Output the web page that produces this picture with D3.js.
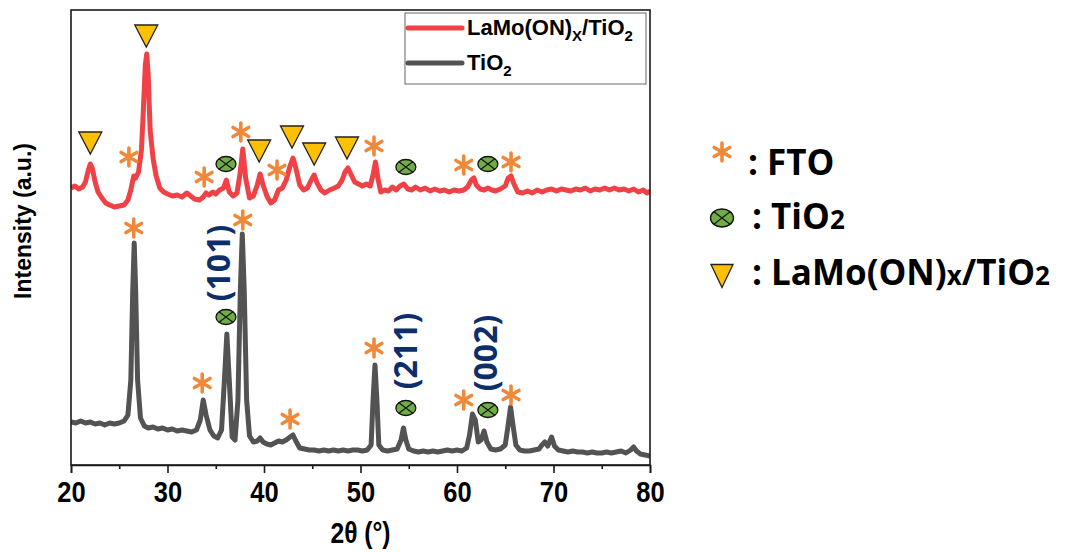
<!DOCTYPE html>
<html>
<head>
<meta charset="utf-8">
<script src="https://cdn.jsdelivr.net/npm/d3@7"></script>
<style>
  html, body { margin: 0; padding: 0; background: #fff; }
  #chart { width: 1079px; height: 552px; }
</style>
</head>
<body>
<div id="chart"></div>
<script>
// XRD patterns: LaMo(ON)x/TiO2 (offset, top) and TiO2 (bottom)

const redTheta = [20.0,20.4,20.8,21.2,21.5,21.8,22.0,22.2,22.5,22.8,23.2,23.6,24.0,24.5,25.0,25.5,25.9,26.2,26.5,26.7,27.0,27.3,27.5,27.7,27.85,28.0,28.2,28.5,28.8,29.2,29.6,30.0,30.5,31.0,31.5,32.0,32.4,32.8,33.3,33.7,34.0,34.3,34.7,35.0,35.4,35.8,36.1,36.4,36.8,37.2,37.5,37.8,38.1,38.5,38.9,39.3,39.6,39.9,40.3,40.7,41.1,41.5,41.9,42.3,42.7,43.0,43.3,43.7,44.1,44.5,44.9,45.2,45.5,45.9,46.3,46.8,47.3,47.7,48.1,48.4,48.7,49.0,49.4,49.8,50.2,50.6,51.0,51.3,51.55,51.8,52.1,52.5,52.9,53.3,53.7,54.1,54.5,54.9,55.3,55.7,56.2,56.7,57.2,57.7,58.2,58.7,59.2,59.7,60.2,60.7,61.1,61.5,61.75,62.0,62.4,62.8,63.2,63.6,64.0,64.5,65.0,65.3,65.6,65.9,66.3,66.8,67.3,67.8,68.3,68.8,69.3,69.8,70.3,70.8,71.3,71.8,72.3,72.8,73.3,73.8,74.3,74.8,75.3,75.8,76.3,76.8,77.3,77.8,78.3,78.8,79.3,79.7,80.0];
const redCounts = [275,277,274,276,281,293,299,295,281,271,265,260,258,256,257,258,263,273,287,285,291,313,353,398,409,388,333,305,288,275,271,269,267,268,266,270,267,264,263,266,270,268,271,269,273,275,283,271,267,270,288,314,285,265,267,278,289,278,267,260,263,273,275,283,297,305,295,278,273,275,283,288,280,273,270,273,275,277,283,291,295,289,281,279,277,279,277,288,301,285,271,273,272,276,273,277,279,274,273,276,273,275,272,274,272,273,271,273,272,273,276,283,285,278,274,273,275,273,272,274,277,285,287,279,271,270,272,270,273,271,273,274,272,274,273,272,274,273,275,272,274,273,275,273,275,273,274,272,274,271,273,270,272];

const grayTheta = [20.0,20.5,21.0,21.5,22.0,22.5,23.0,23.5,24.0,24.5,25.0,25.5,25.9,26.2,26.4,26.55,26.7,26.9,27.2,27.6,28.0,28.5,29.0,29.5,30.0,30.5,31.0,31.5,32.0,32.5,33.0,33.4,33.7,34.0,34.4,34.8,35.2,35.6,35.9,36.15,36.4,36.7,37.0,37.3,37.55,37.75,37.95,38.2,38.5,38.9,39.3,39.6,39.9,40.3,40.7,41.1,41.5,41.9,42.3,42.7,43.0,43.3,43.7,44.2,44.7,45.2,45.7,46.2,46.7,47.2,47.7,48.2,48.7,49.2,49.7,50.2,50.7,51.1,51.3,51.5,51.7,51.9,52.3,52.8,53.3,53.8,54.2,54.45,54.7,55.0,55.5,56.0,56.5,57.0,57.5,58.0,58.5,59.0,59.5,60.0,60.5,61.0,61.3,61.6,61.9,62.2,62.5,62.8,63.1,63.5,64.0,64.5,65.0,65.3,65.55,65.8,66.1,66.5,67.0,67.5,68.0,68.5,68.8,69.1,69.4,69.8,70.1,70.5,71.0,71.5,72.0,72.5,73.0,73.5,74.0,74.5,75.0,75.5,76.0,76.5,77.0,77.5,78.0,78.3,78.6,79.0,79.5,80.0];
const grayCounts = [41,40,42,40,41,39,40,38,40,39,40,42,48,83,173,220,173,83,45,37,35,36,34,35,33,34,32,33,32,31,33,43,63,48,33,27,25,33,83,129,83,26,23,63,173,229,173,63,27,21,22,25,21,19,18,20,22,21,23,26,28,22,15,14,13,13,12,13,12,13,12,13,12,13,13,12,13,18,63,98,63,18,13,12,13,14,23,35,23,14,12,11,12,11,12,11,12,13,12,13,12,15,28,49,43,21,23,32,21,14,13,14,18,38,56,38,18,13,12,12,13,14,18,21,17,26,17,13,12,11,12,11,11,10,11,10,10,11,10,11,12,10,13,16,12,9,8,7];

// peak markers: [2θ, level (a.u.)]
const ftoMarks = [[26.0,306],[33.8,286],[37.6,331],[41.35,293],[51.4,317],[60.7,298],[65.6,301],
                  [26.5,235],[33.6,80],[37.8,243],[42.7,44],[51.4,115],[60.7,63],[65.6,68]];
const tio2Marks = [[36.06,299],[54.7,296],[63.2,299],[36.06,146],[54.7,55],[63.2,53]];
const lamoMarks = [[22.0,320],[27.8,427],[39.5,312],[42.9,326],[45.2,309],[48.6,315]];
const planeLabels = [["(101)",35.3,200],["(211)",54.7,112],["(002)",63.0,110]];

const xTicks = [20,30,40,50,60,70,80];
const xMinorTicks = [25,35,45,55,65,75];

const colors = { lamo: "#ef4146", tio2: "#535353", fto: "#f0883a", green: "#70ad47", yellow: "#ffc000", navy: "#0d2e6b" };

const W = 1079, H = 552;
const margin = { top: 10, right: 429, bottom: 87, left: 71 };
const innerW = W - margin.left - margin.right;
const innerH = H - margin.top - margin.bottom;

const svg = d3.select("#chart").append("svg").attr("width", W).attr("height", H);
const g = svg.append("g").attr("transform", `translate(${margin.left},${margin.top})`);

const x = d3.scaleLinear().domain([20, 80]).range([0, innerW]);
const y = d3.scaleLinear().domain([-2, 453]).range([innerH, 0]);

const line = d3.line().x(d => x(d[0])).y(d => y(d[1]));

g.append("clipPath").attr("id", "clip").append("rect")
  .attr("width", innerW).attr("height", innerH);

const series = [
  { name: "tio2", theta: grayTheta, counts: grayCounts, color: colors.tio2 },
  { name: "lamo", theta: redTheta, counts: redCounts, color: colors.lamo }
];
series.forEach(s => {
  g.append("path")
    .datum(s.theta.map((t, i) => [t, s.counts[i]]))
    .attr("clip-path", "url(#clip)")
    .attr("fill", "none")
    .attr("stroke", s.color)
    .attr("stroke-width", 5)
    .attr("stroke-linejoin", "round")
    .attr("d", line);
});

// frame + axis
g.append("rect").attr("width", innerW).attr("height", innerH)
  .attr("fill", "none").attr("stroke", "#1a1a1a").attr("stroke-width", 1.6);

const tickFont = "'Liberation Sans', Arial, sans-serif";
const xAxis = d3.axisBottom(x).tickValues(xTicks).tickSize(8).tickFormat(d3.format("d"));
const gx = g.append("g").attr("transform", `translate(0,${innerH})`).call(xAxis);
gx.select(".domain").attr("stroke", "#1a1a1a").attr("stroke-width", 1.6);
gx.selectAll(".tick line").attr("stroke", "#1a1a1a").attr("stroke-width", 1.6);
gx.selectAll(".tick text")
  .attr("y", 16)
  .attr("transform", "scale(0.85,1)")
  .style("font-family", tickFont)
  .style("font-weight", "bold").style("font-size", "30px").attr("fill", "#000");

g.append("g").attr("transform", `translate(0,${innerH})`)
  .call(d3.axisBottom(x).tickValues(xMinorTicks).tickSize(4).tickFormat(""))
  .call(a => a.select(".domain").remove())
  .selectAll("line").attr("stroke", "#1a1a1a").attr("stroke-width", 1.6);

g.append("g").attr("transform", `translate(${innerW / 2},${innerH + 78})`)
  .append("text")
  .attr("transform", "scale(0.85,1)")
  .attr("text-anchor", "middle")
  .style("font-family", tickFont)
  .style("font-weight", "bold").style("font-size", "29px")
  .text("2θ (°)");

svg.append("text")
  .attr("transform", `translate(31,${margin.top + 211}) rotate(-90)`)
  .attr("text-anchor", "middle")
  .style("font-family", "'Liberation Sans', Arial, sans-serif")
  .style("font-weight", "bold").style("font-size", "23px")
  .text("Intensity (a.u.)");

// marker drawers
const asterisk = d3.symbol(d3.symbolAsterisk, 230);
function drawAsterisk(sel) {
  sel.append("path").attr("d", asterisk())
    .attr("fill", "none").attr("stroke", colors.fto)
    .attr("stroke-width", 3.6).attr("stroke-linecap", "round");
}
function drawOtimes(sel, rx, ry) {
  sel.append("ellipse").attr("rx", rx).attr("ry", ry)
    .attr("fill", colors.green).attr("stroke", "#111").attr("stroke-width", 1.3);
  const a = rx * 0.7, b = ry * 0.7;
  sel.append("path").attr("d", `M${-a},${-b}L${a},${b}M${-a},${b}L${a},${-b}`)
    .attr("stroke", "#111").attr("stroke-width", 1.1);
}
function drawTriangle(sel, w, h) {
  sel.append("path").attr("d", `M${-w / 2},${-h / 2}L${w / 2},${-h / 2}L0,${h / 2}Z`)
    .attr("fill", colors.yellow).attr("stroke", "#222").attr("stroke-width", 1.3)
    .attr("stroke-linejoin", "miter");
}

g.selectAll("g.fto").data(ftoMarks).join("g").attr("class", "fto")
  .attr("transform", d => `translate(${x(d[0])},${y(d[1])})`)
  .each(function () { drawAsterisk(d3.select(this)); });

g.selectAll("g.tio2").data(tio2Marks).join("g").attr("class", "tio2")
  .attr("transform", d => `translate(${x(d[0])},${y(d[1])})`)
  .each(function () { drawOtimes(d3.select(this), 10, 7.5); });

g.selectAll("g.lamo").data(lamoMarks).join("g").attr("class", "lamo")
  .attr("transform", d => `translate(${x(d[0])},${y(d[1])})`)
  .each(function () { drawTriangle(d3.select(this), 23, 22); });

g.selectAll("text.plane").data(planeLabels).join("text").attr("class", "plane")
  .attr("transform", d => `translate(${x(d[1])},${y(d[2])}) rotate(-90)`)
  .attr("text-anchor", "middle").attr("dy", "0.35em")
  .style("font-family", "'Open Sans', sans-serif")
  .style("font-weight", "bold").style("font-size", "32px")
  .attr("fill", colors.navy)
  .text(d => d[0]);

// legend inside plot
const leg = g.append("g").attr("transform", `translate(${innerW - 245},3)`);
leg.append("rect").attr("width", 241).attr("height", 71)
  .attr("fill", "#fff").attr("stroke", "#666").attr("stroke-width", 1);
const legItems = [
  { color: colors.lamo, parts: [["LaMo(ON)", false], ["X", true], ["/TiO", false], ["2", true]] },
  { color: colors.tio2, parts: [["TiO", false], ["2", true]] }
];
legItems.forEach((it, i) => {
  const row = leg.append("g").attr("transform", `translate(0,${15 + i * 35})`);
  row.append("line").attr("x1", 3).attr("x2", 57).attr("stroke", it.color)
    .attr("stroke-width", 5).attr("stroke-linecap", "round");
  const t = row.append("text").attr("x", 62).attr("y", 7)
    .style("font-family", "'Liberation Sans', Arial, sans-serif")
    .style("font-weight", "bold").style("font-size", "22px");
  let lowered = false;
  it.parts.forEach(p => {
    const dy = p[1] === lowered ? null : (p[1] ? 6 : -6);
    t.append("tspan").text(p[0])
      .attr("dy", dy)
      .style("font-size", p[1] ? "15px" : null);
    lowered = p[1];
  });
});

// marker key on the right
const key = svg.append("g").attr("transform", "translate(722,0)");
const keyFont = "'Open Sans', sans-serif";
const keyRows = [
  { y: 175, parts: [[": FTO", false]], draw: s => drawAsterisk(s), my: 152 },
  { y: 229, parts: [[": TiO", false], ["2", true]], draw: s => drawOtimes(s, 11.5, 9), my: 218 },
  { y: 285, parts: [[": LaMo(ON)", false], ["x", true], ["/TiO", false], ["2", true]], draw: s => drawTriangle(s, 22, 23), my: 276 }
];
keyRows.forEach((r, i) => {
  const m = key.append("g").attr("transform", `translate(0,${r.my})`);
  r.draw(m);
  const t = key.append("text").attr("x", i === 0 ? 26 : 30).attr("y", r.y)
    .style("font-family", keyFont).style("font-weight", "bold").style("font-size", "35px")
    .attr("fill", "#000");
  r.parts.forEach(p => {
    t.append("tspan").text(p[0]).style("font-size", p[1] ? "26px" : null);
  });
});
</script>
</body>
</html>
